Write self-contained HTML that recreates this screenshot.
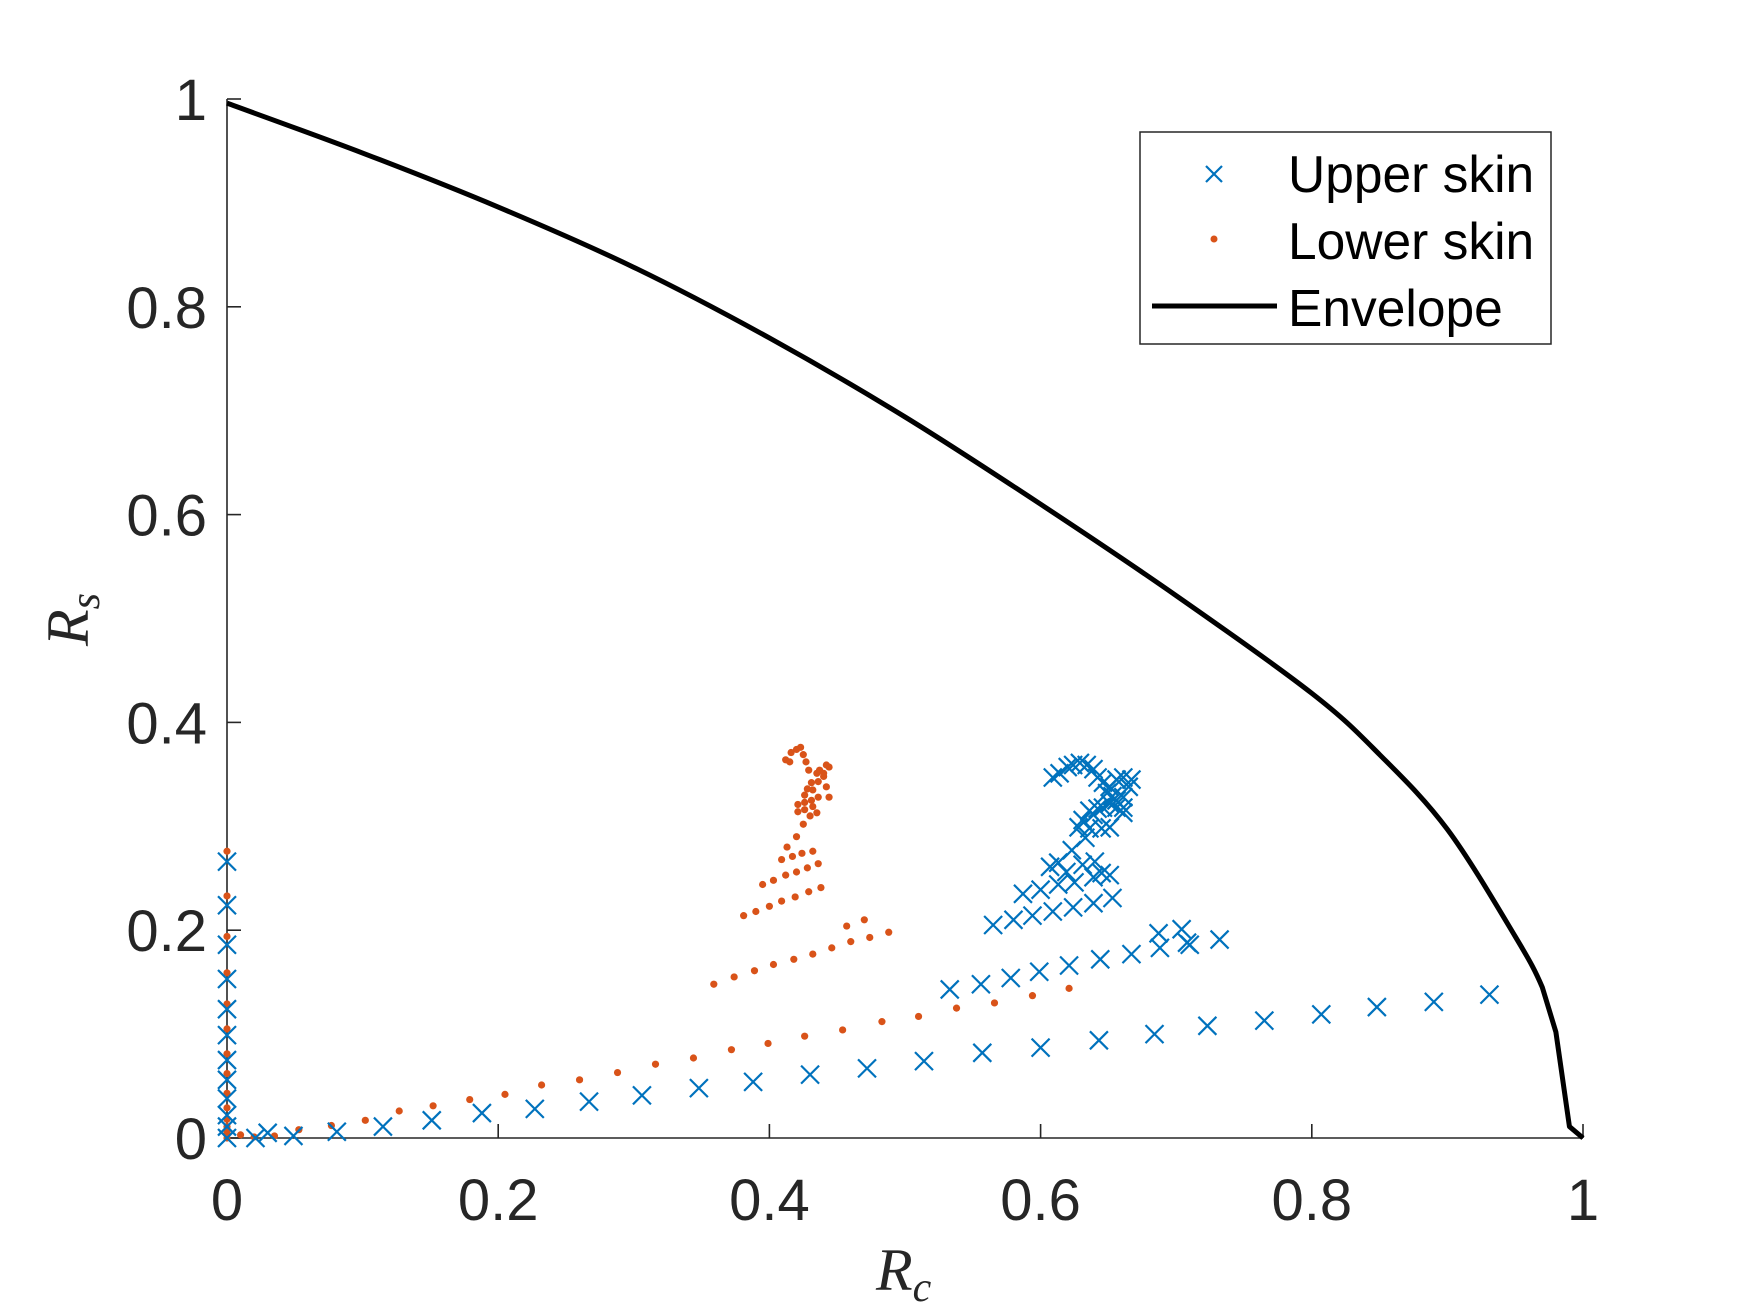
<!DOCTYPE html>
<html><head><meta charset="utf-8"><style>
html,body{margin:0;padding:0;background:#fff;}
svg{display:block;font-family:"Liberation Sans",sans-serif;}
</style></head><body>
<svg id="chart" width="1750" height="1313" viewBox="0 0 1750 1313" xmlns="http://www.w3.org/2000/svg">
<g id="axes"></g>
<g id="envelope"></g>
<g id="lower"></g>
<g id="upper"></g>
<text x="876" y="1290" font-family="Liberation Serif,serif" font-style="italic" font-size="60" fill="#262626">R<tspan font-size="42" dy="11">c</tspan></text>
<text transform="translate(88,646) rotate(-90)" font-family="Liberation Serif,serif" font-style="italic" font-size="60" fill="#262626">R<tspan font-size="42" dy="11">s</tspan></text>
<g>
<rect x="1140" y="132" width="411" height="212" fill="#fff" stroke="#262626" stroke-width="1.5"/>
<g>
<path d="M1206,166 L1222,182 M1222,166 L1206,182" stroke="#0072BD" stroke-width="2.2"/>
<text x="1288" y="192" font-size="51.5" fill="#000">Upper skin</text></g>
<g>
<circle cx="1214" cy="239" r="3.5" fill="#D95319"/>
<text x="1288" y="259" font-size="51.5" fill="#000">Lower skin</text></g>
<g>
<line x1="1152" y1="306" x2="1277" y2="306" stroke="#000" stroke-width="5"/>
<text x="1288" y="326" font-size="51.5" fill="#000">Envelope</text></g>
</g>
</svg>
<script>
const xTicks=[0,0.2,0.4,0.6,0.8,1];
const yTicks=[0,0.2,0.4,0.6,0.8,1];
const xTickLabels=["0","0.2","0.4","0.6","0.8","1"];
const yTickLabels=["0","0.2","0.4","0.6","0.8","1"];
const envX=[0,0.1,0.2,0.3,0.4,0.5,0.6,0.7,0.8,0.85,0.9,0.95,0.97,0.98,0.99,1.0];
const envY=[0.996,0.948,0.896,0.838,0.770,0.694,0.610,0.522,0.428,0.369,0.297,0.194,0.145,0.102,0.011,0];
const upperX=[0,0,0,0,0,0,0,0,0,0,0,0,
0.021,0.030,0.049,0.081,0.115,0.151,0.188,0.227,0.267,0.306,0.348,0.388,0.430,0.472,0.514,0.557,0.600,0.643,0.684,0.723,0.765,0.807,0.848,0.890,0.931,
0.533,0.556,0.578,0.599,0.621,0.644,0.667,0.688,0.708,0.732,0.687,0.704,0.710,
0.565,0.580,0.594,0.609,0.624,0.639,0.653,
0.587,0.600,0.613,0.625,0.639,0.651,
0.607,0.613,0.619,0.631,0.640,0.645,
0.623,0.633,0.628,0.636,0.645,0.651,0.661,0.639,0.631,
0.609,0.614,0.620,0.624,0.629,0.634,0.639,0.642,0.646,0.651,0.656,0.661,0.667,0.665,0.661,0.656,0.651,0.646,0.642,0.636,0.656,0.661,0.649,0.653];
const upperY=[0.266,0.224,0.186,0.153,0.124,0.099,0.075,0.056,0.038,0.022,0.011,0,
0,0.005,0.002,0.006,0.011,0.017,0.024,0.028,0.035,0.041,0.048,0.054,0.061,0.067,0.074,0.082,0.087,0.094,0.100,0.108,0.113,0.119,0.126,0.131,0.138,
0.143,0.148,0.154,0.160,0.166,0.172,0.177,0.183,0.188,0.191,0.197,0.201,0.186,
0.205,0.210,0.214,0.218,0.222,0.226,0.231,
0.235,0.239,0.244,0.246,0.251,0.253,
0.261,0.265,0.256,0.263,0.266,0.255,
0.277,0.289,0.299,0.298,0.298,0.299,0.313,0.311,0.306,
0.347,0.351,0.357,0.359,0.361,0.359,0.355,0.347,0.342,0.338,0.345,0.347,0.345,0.338,0.328,0.325,0.322,0.318,0.317,0.315,0.318,0.318,0.332,0.329];
const lowerX=[0,0,0,0,0,0,0,0,0,0,0,0,0,0,0.01,0.02,0.035,
0.053,0.077,0.102,0.127,0.152,0.179,0.205,0.232,0.260,0.288,0.316,0.344,0.372,0.399,0.426,0.454,0.483,0.510,0.538,0.566,0.594,0.621,
0.359,0.374,0.389,0.403,0.418,0.432,0.446,0.460,0.474,0.488,0.457,0.470,
0.381,0.390,0.400,0.409,0.419,0.429,0.438,
0.395,0.403,0.412,0.420,0.428,0.436,
0.409,0.417,0.424,0.432,0.413,0.420,0.425,
0.421,0.426,0.432,0.435,0.430,0.421,0.426,0.431,0.436,0.426,0.428,0.432,0.431,0.436,0.440,0.437,0.440,0.444,0.442,0.435,0.442,0.444,0.429,0.427,0.425,0.423,0.420,0.416,0.412,0.415];
const lowerY=[0.276,0.233,0.194,0.159,0.129,0.105,0.081,0.062,0.043,0.029,0.018,0.011,0.005,0,0.003,0.001,0.002,
0.008,0.012,0.017,0.026,0.031,0.037,0.042,0.051,0.056,0.063,0.071,0.077,0.085,0.091,0.098,0.104,0.112,0.117,0.125,0.130,0.137,0.144,
0.148,0.155,0.161,0.167,0.172,0.177,0.183,0.189,0.193,0.198,0.204,0.210,
0.214,0.218,0.223,0.228,0.232,0.237,0.241,
0.244,0.248,0.253,0.256,0.260,0.264,
0.268,0.271,0.274,0.276,0.280,0.290,0.302,
0.314,0.316,0.319,0.313,0.310,0.321,0.323,0.325,0.328,0.330,0.336,0.335,0.342,0.343,0.348,0.354,0.351,0.357,0.359,0.351,0.338,0.328,0.354,0.362,0.369,0.376,0.374,0.371,0.364,0.362];

const NS="http://www.w3.org/2000/svg";
const X0=227,X1=1583,Y0=1138,Y1=99;
function sx(v){return X0+(X1-X0)*v;}
function sy(v){return Y0-(Y0-Y1)*v;}
function mk(tag,attrs,parent){const e=document.createElementNS(NS,tag);for(const k in attrs)e.setAttribute(k,attrs[k]);parent.appendChild(e);return e;}

const axes=document.getElementById('axes');
let xl=mk('line',{x1:X0,y1:Y0,x2:X1,y2:Y0,stroke:'#262626','stroke-width':1.6},axes);


let yl=mk('line',{x1:X0,y1:Y0,x2:X0,y2:Y1,stroke:'#262626','stroke-width':1.6},axes);


xTicks.forEach((t,i)=>{
  const tk=mk('line',{x1:sx(t),y1:Y0,x2:sx(t),y2:Y0-14,stroke:'#262626','stroke-width':1.6},axes);
  
  
  const tx=mk('text',{x:sx(t),y:1220,'text-anchor':'middle','font-size':58,fill:'#262626'},axes);
  tx.textContent=xTickLabels[i];
  
  
});
yTicks.forEach((t,i)=>{
  const tk=mk('line',{x1:X0,y1:sy(t),x2:X0+14,y2:sy(t),stroke:'#262626','stroke-width':1.6},axes);
  
  
  const tx=mk('text',{x:207,y:sy(t)+21,'text-anchor':'end','font-size':58,fill:'#262626'},axes);
  tx.textContent=yTickLabels[i];
  
  
});

const env=document.getElementById('envelope');
const P=envX.map((x,i)=>[sx(x),sy(envY[i])]);
let d='M'+P[0][0]+','+P[0][1];
for(let i=0;i<P.length-1;i++){
  const p0=P[Math.max(i-1,0)],p1=P[i],p2=P[i+1],p3=P[Math.min(i+2,P.length-1)];
  const t=(i>=P.length-4)?0:1/6;
  d+=` C${p1[0]+(p2[0]-p0[0])*t},${p1[1]+(p2[1]-p0[1])*t} ${p2[0]-(p3[0]-p1[0])*t},${p2[1]-(p3[1]-p1[1])*t} ${p2[0]},${p2[1]}`;
}
const pl=mk('path',{d:d,fill:'none',stroke:'#000','stroke-width':5,'stroke-linejoin':'round'},env);



const lower=document.getElementById('lower');
lowerX.forEach((x,i)=>{
  const c=mk('circle',{cx:sx(x),cy:sy(lowerY[i]),r:3.6,fill:'#D95319'},lower);
  
  
});
const upper=document.getElementById('upper');
upperX.forEach((x,i)=>{
  const cx=sx(x),cy=sy(upperY[i]),h=9;
  const p=mk('path',{d:`M${cx-h},${cy-h}L${cx+h},${cy+h}M${cx+h},${cy-h}L${cx-h},${cy+h}`,stroke:'#0072BD','stroke-width':2.2,fill:'none'},upper);
  
  
});
</script>
</body></html>
